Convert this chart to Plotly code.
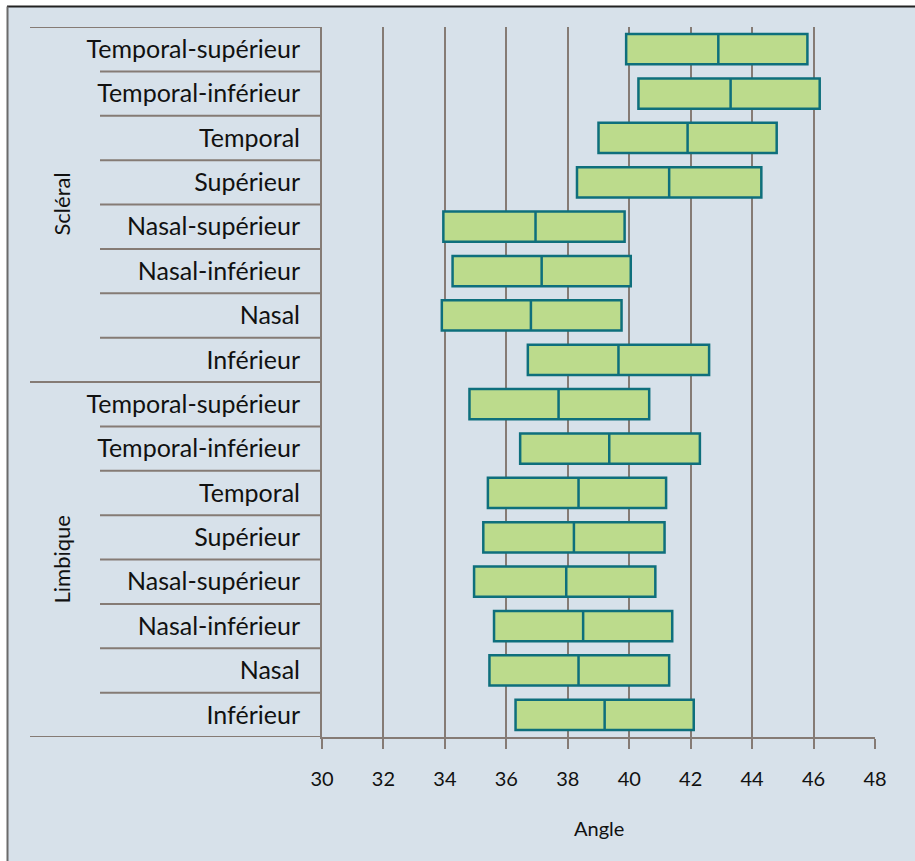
import plotly.graph_objects as go

groups = ["Scléral", "Limbique"]
labels = ["Temporal-supérieur", "Temporal-inférieur", "Temporal", "Supérieur",
          "Nasal-supérieur", "Nasal-inférieur", "Nasal", "Inférieur"]

# Scléral then Limbique, top to bottom
q1_scleral = [39.9, 40.3, 39.0, 38.3, 33.95, 34.25, 33.9, 36.7]
median_scleral = [42.9, 43.3, 41.9, 41.3, 36.95, 37.15, 36.8, 39.65]
q3_scleral = [45.8, 46.2, 44.8, 44.3, 39.85, 40.05, 39.75, 42.6]

q1_limbique = [34.8, 36.45, 35.4, 35.25, 34.95, 35.6, 35.45, 36.3]
median_limbique = [37.7, 39.35, 38.35, 38.2, 37.95, 38.5, 38.35, 39.2]
q3_limbique = [40.65, 42.3, 41.2, 41.15, 40.85, 41.4, 41.3, 42.1]

x_ticks = [30, 32, 34, 36, 38, 40, 42, 44, 46, 48]
x_title = "Angle"

q1 = q1_scleral + q1_limbique
med = median_scleral + median_limbique
q3 = q3_scleral + q3_limbique
tick_text = labels + labels
pos = list(range(len(tick_text)))

GRID = "#857b75"
BG = "#d7e1ea"
FONT = "Lato"
TXT = "#111111"

fig = go.Figure()
fig.add_trace(go.Box(
    y=pos, q1=q1, median=med, q3=q3, lowerfence=q1, upperfence=q3,
    orientation="h", width=0.68, whiskerwidth=0, boxpoints=False,
    fillcolor="#bcdb8c", line=dict(color="#0e6f7c", width=2.5),
    showlegend=False, hoverinfo="x+y",
))

W, H = 915, 861
L, R, T, B = 322, 40, 27, 124
pw, ph = W - L - R, H - T - B

def px(xp):
    return (xp - L) / pw

def py(yp):
    return (H - B - yp) / ph

shapes = []
# outer frame
shapes.append(dict(type="rect", xref="paper", yref="paper", x0=px(0), x1=px(W), y0=py(0), y1=py(6),
                   fillcolor="white", line=dict(width=0), layer="below"))
shapes.append(dict(type="rect", xref="paper", yref="paper", x0=px(0), x1=px(7), y0=py(0), y1=py(H),
                   fillcolor="white", line=dict(width=0), layer="below"))
shapes.append(dict(type="line", xref="paper", yref="paper", x0=px(7), x1=px(W), y0=py(6.5), y1=py(6.5),
                   line=dict(color="#222222", width=2)))
shapes.append(dict(type="line", xref="paper", yref="paper", x0=px(7.5), x1=px(7.5), y0=py(6.5), y1=py(H),
                   line=dict(color="#6b6b6b", width=2)))
# group separators
for yv in [-0.5, 7.5, 15.5]:
    shapes.append(dict(type="line", xref="paper", yref="y", x0=px(30), x1=0, y0=yv, y1=yv,
                       line=dict(color=GRID, width=2)))
# category separators
for i in range(len(pos) - 1):
    if i == 7:
        continue
    shapes.append(dict(type="line", xref="paper", yref="y", x0=px(100), x1=0, y0=i + 0.5, y1=i + 0.5,
                       line=dict(color=GRID, width=2)))

annotations = [
    dict(text=groups[0], xref="paper", yref="y", x=px(61), y=3.5, textangle=-90, showarrow=False,
         font=dict(size=22, color=TXT, family=FONT), xanchor="center", yanchor="middle"),
    dict(text=groups[1], xref="paper", yref="y", x=px(61), y=11.5, textangle=-90, showarrow=False,
         font=dict(size=22, color=TXT, family=FONT), xanchor="center", yanchor="middle"),
    dict(text=x_title, xref="paper", yref="paper", x=0.5, y=py(828), showarrow=False,
         font=dict(size=20, color=TXT, family=FONT), xanchor="center", yanchor="middle"),
]

fig.update_layout(
    width=W, height=H,
    margin=dict(l=L, r=R, t=T, b=B, pad=0),
    paper_bgcolor=BG, plot_bgcolor=BG,
    font=dict(family=FONT, color=TXT),
    shapes=shapes, annotations=annotations,
    xaxis=dict(range=[30, 48], tickvals=x_ticks, ticktext=[str(v) for v in x_ticks],
               showgrid=True, gridcolor=GRID, gridwidth=2, zeroline=False,
               showline=True, linecolor=GRID, linewidth=2,
               ticks="outside", ticklen=10, tickwidth=2, tickcolor=GRID,
               ticklabelstandoff=13, tickfont=dict(size=20, family=FONT, color=TXT)),
    yaxis=dict(range=[15.5, -0.5], tickvals=pos, ticktext=tick_text,
               showgrid=False, zeroline=False, showline=True, linecolor=GRID, linewidth=2,
               ticks="", ticklabelstandoff=15,
               tickfont=dict(size=25, family=FONT, color=TXT)),
)

fig.write_html("out.html", config={"displayModeBar": False},
               post_script="document.body.style.margin='0';")
